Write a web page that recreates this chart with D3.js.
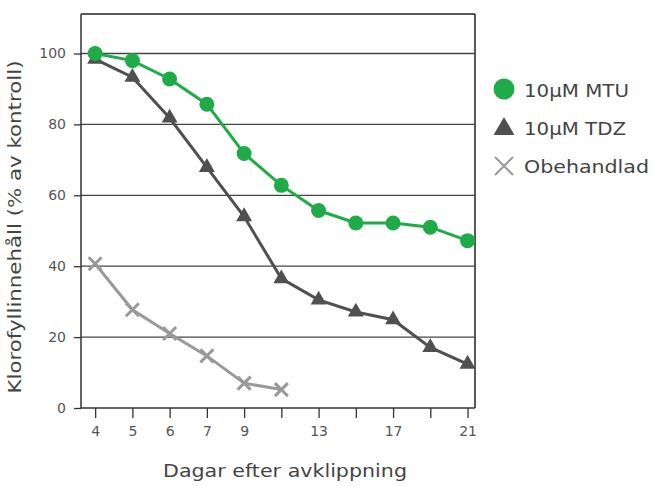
<!DOCTYPE html>
<html><head><meta charset="utf-8">
<script src="https://cdn.jsdelivr.net/npm/d3@7"></script>
<style>body{margin:0;background:#fff}svg{display:block}text{font-family:"DejaVu Sans",sans-serif}</style>
</head><body><svg id="c" width="653" height="486"></svg>
<script>
const days = [4,5,6,7,9,11,13,15,17,19,21];
const dayLabels = ["4","5","6","7","9","","13","","17","","21"];
const mtu = [100,98,92.8,85.7,71.8,62.8,55.7,52.2,52.2,51,47.2];
const tdz = [98.4,93.3,81.8,67.9,54,36.5,30.5,27.1,24.9,17.1,12.4];
const untreated = [40.7,27.7,21,14.7,7,5.2];
const yTicks = [0,20,40,60,80,100];
const seriesNames = ["10µM MTU","10µM TDZ","Obehandlad"];
const xTitle = "Dagar efter avklippning";
const yTitle = "Klorofyllinnehåll (% av kontroll)";

const svg = d3.select("#c");
const L=81,R=475,T=14,B=408;
const x = d3.scaleLinear().domain([-0.38,10.2]).range([L,R]);
const y = d3.scaleLinear().domain([0,100]).range([B,53.5]);
const idx = days.map((d,i)=>i);

svg.append("line").attr("x1",L).attr("x2",R).attr("y1",T).attr("y2",T).attr("stroke","#222").attr("stroke-width",1.5);
svg.append("line").attr("x1",R).attr("x2",R).attr("y1",T).attr("y2",B).attr("stroke","#222").attr("stroke-width",1.5);
svg.append("g").selectAll("line").data(yTicks.filter(d=>d>0)).join("line")
 .attr("x1",L).attr("x2",R).attr("y1",d=>y(d)).attr("y2",d=>y(d)).attr("stroke","#444").attr("stroke-width",1.3);

const yAxis = svg.append("g").attr("transform",`translate(${L},0)`)
 .call(d3.axisLeft(y).tickValues(yTicks).tickSize(7).tickPadding(8));
const xAxis = svg.append("g").attr("transform",`translate(0,${B})`)
 .call(d3.axisBottom(x).tickValues(idx).tickSize(10).tickPadding(8).tickFormat(i=>dayLabels[i]));
[yAxis,xAxis].forEach(g=>{
 g.select(".domain").attr("stroke","#333").attr("stroke-width",1.5);
 g.selectAll(".tick line").attr("stroke","#333").attr("stroke-width",1.3);
 g.selectAll(".tick text").attr("fill","#555").style("font-size","14px");
});
yAxis.select(".domain").attr("d",`M0,${T}V${B}`);
xAxis.select(".domain").attr("d",`M${L},0H${R}`);

const line = d3.line().x((d,i)=>x(i)).y(d=>y(d));
const cols = ["#1fac48","#505050","#999999"];
svg.append("path").datum(untreated).attr("d",line).attr("fill","none").attr("stroke",cols[2]).attr("stroke-width",3);
svg.append("path").datum(tdz).attr("d",line).attr("fill","none").attr("stroke",cols[1]).attr("stroke-width",3);
svg.append("path").datum(mtu).attr("d",line).attr("fill","none").attr("stroke",cols[0]).attr("stroke-width",3);

const cross = s=>`M${-s},${-s}L${s},${s}M${-s},${s}L${s},${-s}`;
const tri = d3.symbol().type(d3.symbolTriangle).size(110)();
svg.append("g").selectAll("path").data(untreated).join("path")
 .attr("transform",(d,i)=>`translate(${x(i)},${y(d)})`).attr("d",cross(6.5)).attr("stroke",cols[2]).attr("stroke-width",3).attr("fill","none");
svg.append("g").selectAll("path").data(tdz).join("path")
 .attr("transform",(d,i)=>`translate(${x(i)},${y(d)})`).attr("d",tri).attr("fill",cols[1]);
svg.append("g").selectAll("circle").data(mtu).join("circle")
 .attr("cx",(d,i)=>x(i)).attr("cy",d=>y(d)).attr("r",7.5).attr("fill",cols[0]);

// legend
const lg = svg.append("g");
const ly = [97,135,173];
const lw = [105,102,125];
lg.append("circle").attr("cx",504).attr("cy",89).attr("r",10.5).attr("fill",cols[0]);
lg.append("path").attr("transform",`translate(504,129)`).attr("d",d3.symbol().type(d3.symbolTriangle).size(190)()).attr("fill",cols[1]);
lg.append("path").attr("transform",`translate(504,166)`).attr("d",cross(9)).attr("stroke",cols[2]).attr("stroke-width",2).attr("fill","none");
lg.selectAll("text").data(seriesNames).join("text")
 .attr("x",524).attr("y",(d,i)=>ly[i]).attr("fill","#444").style("font-size","17px")
 .attr("textLength",(d,i)=>lw[i]).attr("lengthAdjust","spacingAndGlyphs").text(d=>d);

svg.append("text").attr("x",285).attr("y",477).attr("text-anchor","middle").attr("fill","#444").style("font-size","17px")
 .attr("textLength",244).attr("lengthAdjust","spacingAndGlyphs").text(xTitle);
svg.append("text").attr("transform","translate(21,227) rotate(-90)").attr("text-anchor","middle").attr("fill","#444").style("font-size","17px")
 .attr("textLength",333).attr("lengthAdjust","spacingAndGlyphs").text(yTitle);
</script></body></html>
